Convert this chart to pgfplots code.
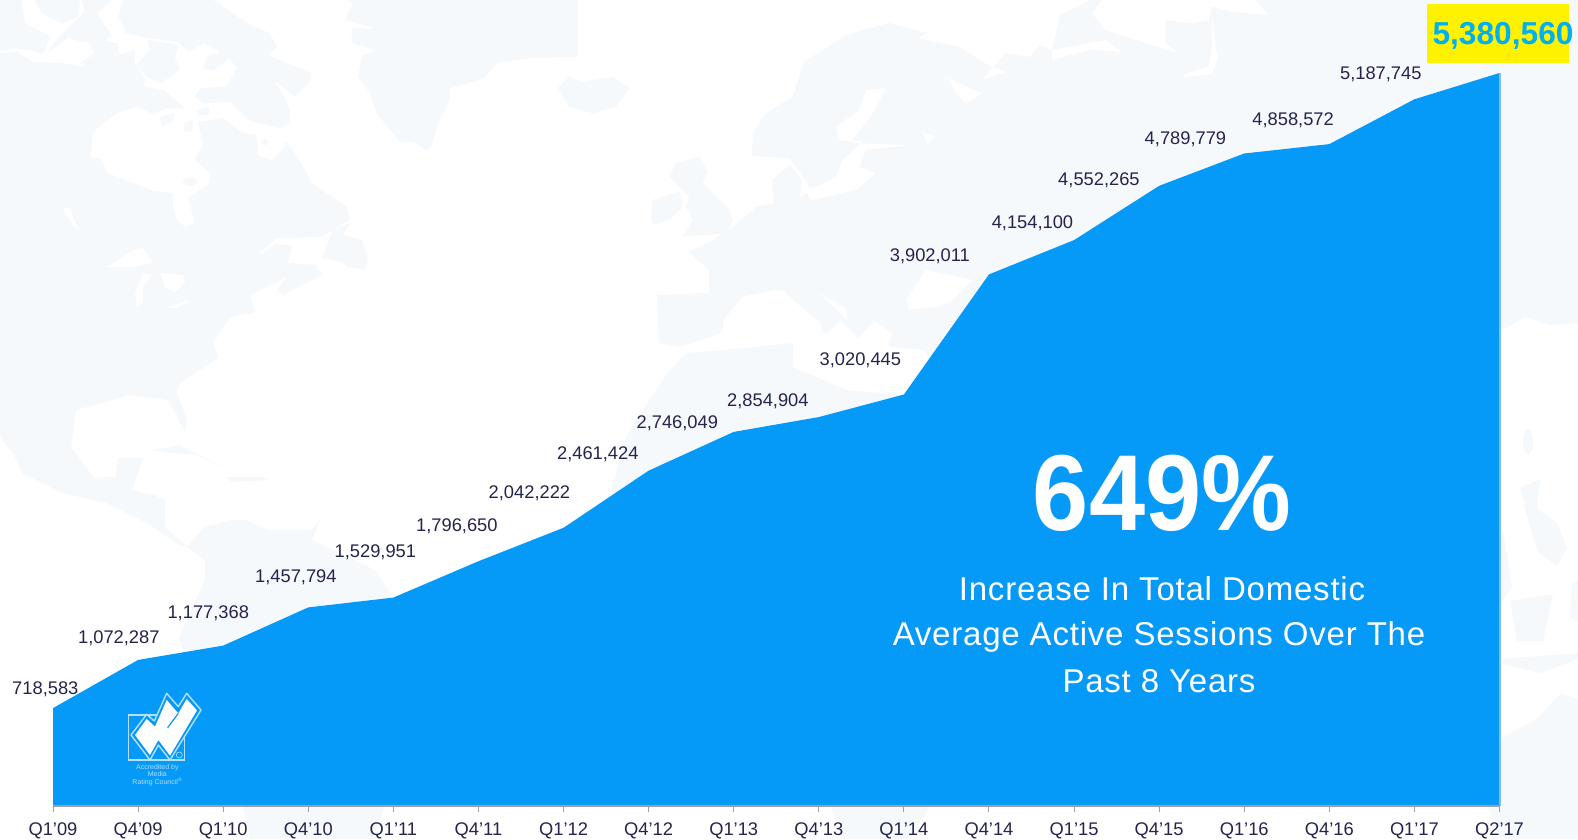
\documentclass[border=0pt]{standalone}
\usepackage{pgfplots}
\pgfplotsset{compat=1.18}
\usepackage{fontspec}
\setmainfont{Liberation Sans}
\newfontfamily\spaced[LetterSpace=2.4]{Liberation Sans}
\definecolor{landc}{HTML}{F5F9FC}
\definecolor{areac}{HTML}{0599F8}
\definecolor{txtc}{HTML}{24244C}
\definecolor{bigc}{HTML}{00B0F0}
\definecolor{logoc}{HTML}{B4E0FD}
\tikzset{
  full/.style={x=1pt,y=-1pt,shift={(0pt,839pt)}},
  zA/.style={x=0.3333pt,y=-0.3333pt,shift={(0pt,839pt)}},
  zB/.style={x=0.3333pt,y=-0.3333pt,shift={(526pt,839pt)}},
  zC/.style={x=0.3333pt,y=-0.3333pt,shift={(1052pt,839pt)}},
  land/.style={fill=landc,draw=none},
  sea/.style={fill=white,draw=none},
  lab/.style={font=\fontsize{18.3pt}{20pt}\selectfont,text=txtc,inner sep=0pt,anchor=center,yshift=-1pt},
}
\begin{document}
\begin{tikzpicture}
\path[use as bounding box,fill=white] (0pt,0pt) rectangle (1578pt,839pt);
\begin{scope}
\clip (0pt,0pt) rectangle (1578pt,839pt);
% ---- background map: land in a very pale blue
\begin{scope}[full]
\fill[land] (0,53)--(17,52)--(33,62)--(63,63)--(82,67)--(95,55)--(117,52)--(137,65)--(145,80)--(142,97)--(137,107)--(117,113)--(103,123)--(93,133)--(90,157)--(102,160)--(107,173)--(133,183)--(153,191)--(173,193)--(173,208)--(177,220)--(185,227)--(195,223)--(188,197)--(208,185)--(210,173)--(195,160)--(203,143)--(198,122)--(223,118)--(243,133)--(257,135)--(258,155)--(272,161)--(282,150)--(287,142)--(307,173)--(310,182)--(347,207)--(350,220)--(333,230)--(320,237)--(277,238)--(257,255)--(277,244)--(292,246)--(288,263)--(315,265)--(322,275)--(283,295)--(277,290)--(287,277)--(250,295)--(255,312)--(230,317)--(213,343)--(218,358)--(180,383)--(177,393)--(187,420)--(185,432)--(168,400)--(130,395)--(76,410)--(71,447)--(94,478)--(116,477)--(118,458)--(143,458)--(132,490)--(154,495)--(165,500)--(165,527)--(187,547)--(176,543)--(147,523)--(107,503)--(62,493)--(22,473)--(13,453)--(0,437)--cycle;
% great lakes and others
\fill[sea] (107,267)--(133,250)--(143,248)--(153,263)--(133,267)--cycle;
\fill[sea] (137,307)--(135,293)--(143,273)--(152,275)--(143,287)--(143,302)--cycle;
\fill[sea] (160,273)--(183,275)--(185,282)--(175,293)--(165,287)--cycle;
\fill[sea] (165,308)--(190,300)--(177,308)--cycle;
\fill[sea] (62,207)--(70,208)--(78,230)--(68,218)--cycle;
\fill[land] (190,182) ellipse (7 and 4);
\fill[land] (265,142) ellipse (4 and 3);
% Newfoundland
\fill[land] (322,258)--(333,230)--(340,227)--(350,223)--(343,235)--(362,240)--(368,260)--(365,270)--(347,267)--(343,262)--cycle;
% Cuba, Hispaniola
\fill[land] (154,450)--(179,445)--(223,467)--(196,455)--(165,452)--cycle;
\fill[land] (225,477)--(263,477)--(268,480)--(232,482)--cycle;
% South America
\fill[land] (187,547)--(205,527)--(232,520)--(246,520)--(268,530)--(312,530)--(321,517)--(312,540)--(375,570)--(393,597)--(393,660)--(183,650)--(179,637)--(205,580)--(205,560)--cycle;
\fill[land] (243,806)--(385,806)--(372,839)--(250,839)--cycle;
% Africa
\fill[land] (686,353)--(726,350)--(793,343)--(793,367)--(846,390)--(905,395)--(905,520)--(612,520)--(612,490)--(625,440)--(636,420)--(653,395)--(666,375)--cycle;
\fill[land] (830,806)--(930,806)--(910,839)--(845,839)--cycle;
\end{scope}
\begin{scope}[zA]
\fill[land] (370,0)--(640,0)--(750,75)--(810,100)--(830,140)--(805,165)--(935,220)--(930,245)--(885,290)--(820,240)--(850,285)--(870,330)--(870,370)--(840,385)--(745,360)--(690,305)--(610,310)--(585,290)--(600,265)--(680,260)--(710,205)--(690,175)--(640,210)--(610,205)--(620,170)--(660,155)--(610,130)--(570,155)--(530,125)--(445,115)--(380,100)--(355,50)--cycle;
\fill[land] (445,120)--(535,135)--(525,175)--(540,210)--(480,250)--(440,230)--(410,195)--(450,150)--cycle;
\fill[land] (430,260)--(490,270)--(555,325)--(500,325)--(460,345)--(415,320)--cycle;
\fill[land] (480,350)--(525,340)--(520,365)--(485,378)--cycle;
\fill[land] (550,370)--(578,360)--(578,392)--(555,395)--cycle;
\fill[land] (590,330)--(630,322)--(625,345)--(595,345)--cycle;
\fill[land] (105,0)--(240,0)--(235,50)--(185,70)--(125,40)--cycle;
\fill[land] (0,0)--(65,0)--(75,70)--(150,110)--(130,160)--(50,145)--(0,152)--cycle;
\fill[land] (230,60)--(255,35)--(245,0)--(335,0)--(290,40)--(335,105)--(315,125)--(355,130)--(358,165)--(405,150)--(405,190)--(240,190)--(285,160)--(265,125)--(240,125)--(205,112)--(145,155)--(160,130)--cycle;
% Greenland
\fill[land] (1040,0)--(1060,10)--(1035,60)--(1130,85)--(1055,85)--(1055,130)--(1130,150)--(1085,170)--(1075,230)--(1110,280)--(1130,340)--(1200,425)--(1240,425)--(1280,450)--(1295,440)--(1315,365)--(1350,300)--(1350,265)--(1450,235)--(1490,190)--(1578,175)--(1734,170)--(1734,0)--cycle;
\end{scope}
\begin{scope}[zB]
% Iceland
\fill[land] (95,265)--(130,230)--(170,245)--(260,230)--(310,265)--(270,320)--(200,340)--(130,320)--(110,290)--cycle;
% Britain and Ireland
\fill[land] (375,650)--(380,600)--(460,575)--(470,620)--(430,660)--(380,675)--cycle;
\fill[land] (430,530)--(450,490)--(520,470)--(545,515)--(530,550)--(610,630)--(620,660)--(600,700)--(470,710)--(500,660)--(480,620)--(490,590)--cycle;
\end{scope}
\begin{scope}[full]
% Eurasia
\fill[land] (659,343)--(657,295)--(709,293)--(709,270)--(689,252)--(713,240)--(733,227)--(756,207)--(774,203)--(772,180)--(790,165)--(802,180)--(800,197)--(812,190)--(790,158)--(752,156)--(753,133)--(766,113)--(793,97)--(804,62)--(846,35)--(889,23)--(926,33)--(918,38)--(959,47)--(993,68)--(1006,53)--(1030,57)--(1040,45)--(1052,50)--(1060,15)--(1075,8)--(1090,0)--(1578,0)--(1578,323)--(1549,325)--(1525,317)--(1502,330)--(1490,440)--(960,440)--(925,350)--(890,347)--(873,322)--(858,338)--(840,320)--(828,332)--(823,333)--(820,322)--(793,300)--(783,290)--(743,297)--(723,320)--(723,333)--(679,347)--cycle;
% right-hand islands
\fill[land] (1528,442) ellipse (5 and 13);
\fill[land] (1520,487)--(1540,480)--(1537,509)--(1557,523)--(1567,548)--(1557,566)--(1537,551)--(1527,516)--cycle;
\fill[land] (1510,601)--(1553,594)--(1543,641)--(1517,641)--cycle;
\fill[land] (1503,659)--(1578,653)--(1578,659)--(1540,673)--(1503,664)--cycle;
\fill[land] (1490,510)--(1503,530)--(1512,587)--(1503,601)--(1490,600)--cycle;
\fill[land] (1572,583)--(1578,581)--(1578,622)--(1570,618)--cycle;
% Australia
\fill[land] (1490,740)--(1503,737)--(1537,719)--(1560,694)--(1578,698)--(1578,839)--(1500,839)--(1488,806)--cycle;
\end{scope}
\begin{scope}[zB]
% seas cut out of Eurasia
\fill[sea] (1080,265)--(1020,270)--(1000,330)--(930,380)--(940,420)--(1000,430)--(1150,435)--(1020,450)--(1000,500)--(1050,520)--(990,570)--(860,600)--(830,570)--(870,560)--(930,530)--(950,480)--(1010,425)--(980,420)--(1040,340)--cycle;
\fill[sea] (1255,230)--(1370,280)--(1320,310)--(1290,280)--(1270,240)--cycle;
\fill[sea] (1190,395)--(1225,410)--(1205,435)--cycle;
\fill[sea] (830,830)--(880,880)--(960,925)--(965,960)--(900,900)--cycle;
\fill[sea] (1140,900)--(1200,810)--(1340,840)--(1280,900)--(1240,920)--(1150,930)--cycle;
\fill[sea] (1040,960)--(1100,1000)--(1085,1040)--(1055,1000)--cycle;
\fill[sea] (580,1000)--(650,890)--(750,870)--(740,990)--(620,1010)--cycle;
\fill[sea] (1400,200)--(1440,215)--(1370,240)--cycle;
\end{scope}
\begin{scope}[zC]
\fill[sea] (120,40)--(150,0)--(610,0)--(650,45)--(540,35)--(480,20)--(470,60)--(420,70)--(340,60)--(340,130)--(380,160)--(220,110)--(160,90)--cycle;
\fill[sea] (480,40)--(492,150)--(500,170)--(480,222)--(400,232)--(390,225)--(470,200)--(480,140)--cycle;
\fill[sea] (0,180)--(110,150)--(210,155)--(160,120)--(0,150)--cycle;
\end{scope}
\end{scope}
% ---- the chart
\begin{axis}[
  at={(53pt,33pt)}, anchor=origin,
  scale only axis, width=1446.5pt, height=733pt,
  xmin=0, xmax=17, ymin=0, ymax=5380560,
  clip=false, axis on top,
  axis x line=bottom, axis y line=none,
  axis line style={-, draw=gray!75, line width=2pt},
  xtick={0,...,17},
  xticklabels={Q1'09,Q4'09,Q1'10,Q4'10,Q1'11,Q4'11,Q1'12,Q4'12,Q1'13,Q4'13,Q1'14,Q4'14,Q1'15,Q4'15,Q1'16,Q4'16,Q1'17,Q2'17},
  tick align=outside,
  major tick length=6pt,
  xtick style={draw=gray!75, line width=1pt},
  xticklabel style={font=\fontsize{18.3pt}{20pt}\selectfont, text=txtc, inner sep=0pt, yshift=-11pt},
]
\addplot[fill=areac, draw=none] coordinates {
 (0,718583) (1,1072287) (2,1177368) (3,1457794) (4,1529951) (5,1796650)
 (6,2042222) (7,2461424) (8,2746049) (9,2854904) (10,3020445) (11,3902011)
 (12,4154100) (13,4552265) (14,4789779) (15,4858572) (16,5187745) (17,5380560)
 (17,0) (0,0)} -- cycle;
\addplot[draw=gray!40!areac!60!white, line width=1.5pt, forget plot] coordinates {(17.005,0) (17.005,5380560)};
\node[lab,xshift=-7.7pt,yshift=19.7pt] at (axis cs:0,718583) {718,583};
\node[lab,xshift=-19.3pt,yshift=22.9pt] at (axis cs:1,1072287) {1,072,287};
\node[lab,xshift=-14.9pt,yshift=33.7pt] at (axis cs:2,1177368) {1,177,368};
\node[lab,xshift=-12.4pt,yshift=30.7pt] at (axis cs:3,1457794) {1,457,794};
\node[lab,xshift=-18pt,yshift=46.1pt] at (axis cs:4,1529951) {1,529,951};
\node[lab,xshift=-21.6pt,yshift=35.9pt] at (axis cs:5,1796650) {1,796,650};
\node[lab,xshift=-34.1pt,yshift=35.7pt] at (axis cs:6,2042222) {2,042,222};
\node[lab,xshift=-50.8pt,yshift=17.8pt] at (axis cs:7,2461424) {2,461,424};
\node[lab,xshift=-56.4pt,yshift=9.2pt] at (axis cs:8,2746049) {2,746,049};
\node[lab,xshift=-50.9pt,yshift=16.6pt] at (axis cs:9,2854904) {2,854,904};
\node[lab,xshift=-43.5pt,yshift=35.2pt] at (axis cs:10,3020445) {3,020,445};
\node[lab,xshift=-59.1pt,yshift=18.8pt] at (axis cs:11,3902011) {3,902,011};
\node[lab,xshift=-41.6pt,yshift=17.7pt] at (axis cs:12,4154100) {4,154,100};
\node[lab,xshift=-60.2pt,yshift=6.7pt] at (axis cs:13,4552265) {4,552,265};
\node[lab,xshift=-58.8pt,yshift=15.6pt] at (axis cs:14,4789779) {4,789,779};
\node[lab,xshift=-36.2pt,yshift=25.3pt] at (axis cs:15,4858572) {4,858,572};
\node[lab,xshift=-33.6pt,yshift=25.8pt] at (axis cs:16,5187745) {5,187,745};
\end{axis}
% ---- annotations
\begin{scope}[full]
\fill[yellow] (1427,4) rectangle (1569,63);
\node[text=bigc,inner sep=0pt,font=\bfseries\fontsize{31.7pt}{34pt}\selectfont] at (1503,35.5) {5,380,560};
\node[text=white,inner sep=0pt,xscale=0.935,font=\bfseries\fontsize{108pt}{110pt}\selectfont] at (1162,493) {649\%};
\node[text=white,inner sep=0pt,anchor=base,font=\spaced\fontsize{33pt}{36pt}\selectfont] at (1162,600) {Increase In Total Domestic};
\node[text=white,inner sep=0pt,anchor=base,font=\spaced\fontsize{33pt}{36pt}\selectfont] at (1159,645) {Average Active Sessions Over The};
\node[text=white,inner sep=0pt,anchor=base,font=\spaced\fontsize{33pt}{36pt}\selectfont] at (1159,692) {Past 8 Years};
\end{scope}
% ---- accreditation logo
\begin{scope}[x=0.3333pt,y=-0.3333pt,shift={(115pt,154pt)}]
\draw[logoc,line width=1.6pt] (40,90) rectangle (208,225);
\fill[areac] (48,150)--(95,88)--(118,108)--(155,25)--(190,65)--(215,25)--(258,75)--(165,225)--(130,180)--(105,225)--cycle;
\draw[logoc,line width=1.4pt,line join=round] (48,150)--(95,88)--(118,108)--(155,25)--(190,65)--(215,25)--(258,75)--(165,225)--(130,180)--(105,225)--cycle;
\fill[white] (60,150)--(95,102)--(120,125)--(155,45)--(190,85)--(215,42)--(246,76)--(165,212)--(130,165)--(105,210)--cycle;
\draw[areac,line width=1.2pt] (158,128)--(190,85);
\draw[logoc,line width=0.6pt] (193,210) circle (9);
\node[text=logoc,inner sep=0pt,font=\fontsize{7pt}{7.5pt}\selectfont,align=center] at (127,270) {Accredited by\\Media\\Rating Council\textsuperscript{®}};
\end{scope}
\end{tikzpicture}
\end{document}
